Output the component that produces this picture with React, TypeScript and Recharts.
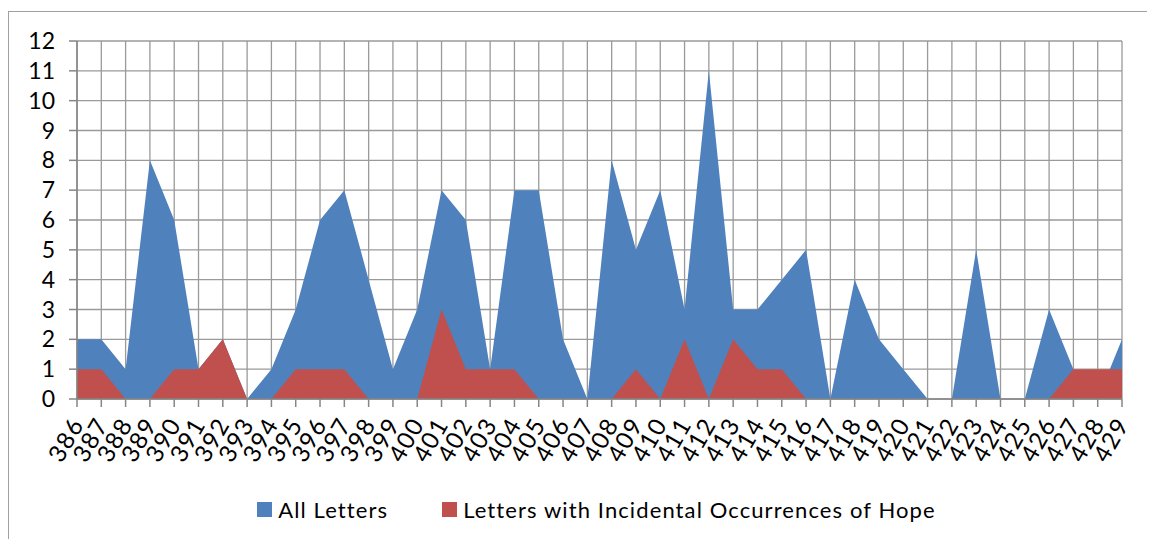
import { AreaChart, Area, XAxis, YAxis, CartesianGrid, Legend } from "recharts";

// Letter numbers along the x axis
const letterNumbers = [
  "386", "387", "388", "389", "390", "391", "392", "393", "394", "395", "396",
  "397", "398", "399", "400", "401", "402", "403", "404", "405", "406", "407",
  "408", "409", "410", "411", "412", "413", "414", "415", "416", "417", "418",
  "419", "420", "421", "422", "423", "424", "425", "426", "427", "428", "429",
];

const allLetters = [
  2, 2, 1, 8, 6, 1, 2, 0, 1, 3, 6,
  7, 4, 1, 3, 7, 6, 1, 7, 7, 2, 0,
  8, 5, 7, 3, 11, 3, 3, 4, 5, 0, 4,
  2, 1, 0, 0, 5, 0, 0, 3, 1, 0, 2,
];

const hopeLetters = [
  1, 1, 0, 0, 1, 1, 2, 0, 0, 1, 1,
  1, 0, 0, 0, 3, 1, 1, 1, 0, 0, 0,
  0, 1, 0, 2, 0, 2, 1, 1, 0, 0, 0,
  0, 0, 0, 0, 0, 0, 0, 0, 1, 1, 1,
];

const yTicks = [0, 1, 2, 3, 4, 5, 6, 7, 8, 9, 10, 11, 12];

const data = letterNumbers.map((n, i) => ({
  letter: n,
  all: allLetters[i],
  hope: hopeLetters[i],
}));

const BLUE = "#4f81bd";
const RED = "#c0504d";
const GRID = "#9a9a9a";
const FONT = "Lato, 'Open Sans', sans-serif";

function XTick(props: any) {
  const { x, y, payload } = props;
  return (
    <g transform={`translate(${x + 8},${y + 15})`}>
      <text
        transform="rotate(-60)"
        textAnchor="end"
        fontSize={24}
        letterSpacing={1.5}
        fill="#000"
        fontFamily={FONT}
      >
        {payload.value}
      </text>
    </g>
  );
}

function LegendBox() {
  const items = [
    { label: "All Letters", color: BLUE },
    { label: "Letters with Incidental Occurrences of Hope", color: RED },
  ];
  return (
    <div
      style={{
        display: "flex",
        justifyContent: "center",
        gap: 54,
        height: 44,
        alignItems: "center",
        fontFamily: FONT,
        fontSize: 22,
        letterSpacing: 1.1,
        color: "#000",
        paddingLeft: 62,
      }}
    >
      {items.map((it) => (
        <div key={it.label} style={{ display: "flex", alignItems: "center" }}>
          <span
            style={{
              width: 15,
              height: 15,
              background: it.color,
              display: "inline-block",
              marginRight: 6,
            }}
          />
          <span>{it.label}</span>
        </div>
      ))}
    </div>
  );
}

export default function App() {
  return (
    <div style={{ paddingTop: 3, fontFamily: FONT }}>
      <div
        style={{
          borderTop: "1px solid #a0a0a0",
          borderLeft: "1px solid #a0a0a0",
          width: 1160,
          height: 530,
        }}
      >
        <AreaChart
          width={1146}
          height={527}
          data={data}
          margin={{ top: 29, right: 33, left: 0, bottom: 8 }}
        >
          <CartesianGrid stroke={GRID} strokeWidth={1.3} />
          <XAxis
            dataKey="letter"
            interval={0}
            height={88}
            tick={<XTick />}
            tickSize={8}
            stroke="#868686"
            strokeWidth={1.5}
          />
          <YAxis
            domain={[0, 12]}
            ticks={yTicks}
            interval={0}
            width={68}
            tickSize={8}
            tickMargin={14}
            stroke="#868686"
            strokeWidth={1.5}
            tick={{ fontSize: 23, fill: "#000", fontFamily: FONT }}
          />
          <Area
            type="linear"
            dataKey="all"
            name="All Letters"
            fill={BLUE}
            fillOpacity={1}
            stroke="none"
            isAnimationActive={false}
          />
          <Area
            type="linear"
            dataKey="hope"
            name="Letters with Incidental Occurrences of Hope"
            fill={RED}
            fillOpacity={1}
            stroke="none"
            isAnimationActive={false}
          />
          <Legend verticalAlign="bottom" content={<LegendBox />} />
        </AreaChart>
      </div>
    </div>
  );
}
